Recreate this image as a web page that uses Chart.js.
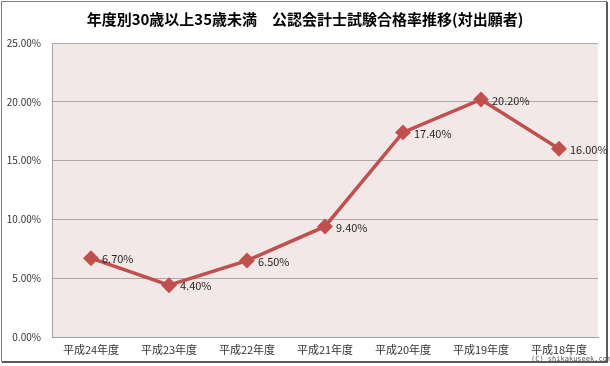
<!DOCTYPE html>
<html>
<head>
<meta charset="utf-8">
<script src="https://cdn.jsdelivr.net/npm/chart.js@4/dist/chart.umd.min.js"></script>
<style>
  body { margin: 0; background: #fff; }
  #wrap { width: 610px; height: 366px; position: relative; }
</style>
</head>
<body>
<div id="wrap"><canvas id="chart1" width="610" height="366"></canvas></div>
<script>
// 年度ラベルと合格率(%)
const years = ['平成24年度', '平成23年度', '平成22年度', '平成21年度', '平成20年度', '平成19年度', '平成18年度'];
const passRates = [6.7, 4.4, 6.5, 9.4, 17.4, 20.2, 16.0];
const yTicks = [0, 5, 10, 15, 20, 25];

const titleText = '年度別30歳以上35歳未満　公認会計士試験合格率推移(対出願者)';
const FONT = '"Noto Sans CJK JP", "DejaVu Sans", sans-serif';

// 背景・枠線・タイトル・ラベルを描くプラグイン
const decorPlugin = {
    id: 'decor',
    beforeDraw(chart) {
        const { ctx, chartArea: a } = chart;
        ctx.save();
        ctx.fillStyle = '#f3e8e8';
        ctx.fillRect(a.left, a.top, a.right - a.left, a.bottom - a.top);
        ctx.restore();
    },
    afterDraw(chart) {
        const { ctx } = chart;
        ctx.save();
        // 外枠
        ctx.strokeStyle = '#7f7f7f';
        ctx.lineWidth = 1;
        ctx.strokeRect(1.5, 1.5, 605, 360);
        ctx.strokeStyle = '#5a5a5a';
        ctx.lineWidth = 2;
        ctx.beginPath();
        ctx.moveTo(2, 362); ctx.lineTo(607, 362); ctx.lineTo(607, 2);
        ctx.stroke();

        // タイトル
        ctx.fillStyle = '#000';
        ctx.font = 'bold 15px ' + FONT;
        ctx.textAlign = 'center';
        ctx.textBaseline = 'middle';
        ctx.fillText(titleText, 305, 19);

        // データラベル
        const meta = chart.getDatasetMeta(0);
        ctx.font = '11px ' + FONT;
        ctx.fillStyle = '#262626';
        ctx.textAlign = 'left';
        meta.data.forEach((pt, i) => {
            ctx.fillText(passRates[i].toFixed(2) + '%', pt.x + 11, pt.y + 1);
        });

        // 透かし
        ctx.font = '7px "DejaVu Sans Mono", monospace';
        ctx.fillStyle = '#555';
        ctx.fillText('(C) shikakuseek.com', 531, 359);
        ctx.restore();
    }
};

new Chart(document.getElementById('chart1'), {
    type: 'line',
    data: {
        labels: years,
        datasets: [{
            data: passRates,
            borderColor: '#c0504d',
            backgroundColor: '#c0504d',
            borderWidth: 3.5,
            pointStyle: 'rectRot',
            pointRadius: 5.5,
            pointHoverRadius: 5.5,
            tension: 0
        }]
    },
    options: {
        responsive: false,
        animation: false,
        events: [],
        layout: { padding: { top: 43, right: 12, left: 0, bottom: 0 } },
        plugins: { legend: { display: false }, title: { display: false }, tooltip: { enabled: false } },
        scales: {
            x: {
                offset: true,
                grid: { display: false, drawTicks: false },
                border: { color: '#a0a0a0', width: 1 },
                ticks: { color: '#333', font: { family: FONT, size: 11 }, padding: 6, maxRotation: 0 },
                afterFit(scale) { scale.height = 29; }
            },
            y: {
                min: 0,
                max: 25,
                afterBuildTicks(scale) { scale.ticks = yTicks.map(v => ({ value: v })); },
                grid: { color: '#a8a8a8', lineWidth: 1, drawTicks: false },
                border: { color: '#a0a0a0', width: 1 },
                ticks: {
                    color: '#333',
                    font: { family: FONT, size: 10 },
                    padding: 11,
                    callback: v => v.toFixed(2) + '%'
                },
                afterFit(scale) { scale.width = 52; }
            }
        }
    },
    plugins: [decorPlugin]
});
</script>
</body>
</html>
